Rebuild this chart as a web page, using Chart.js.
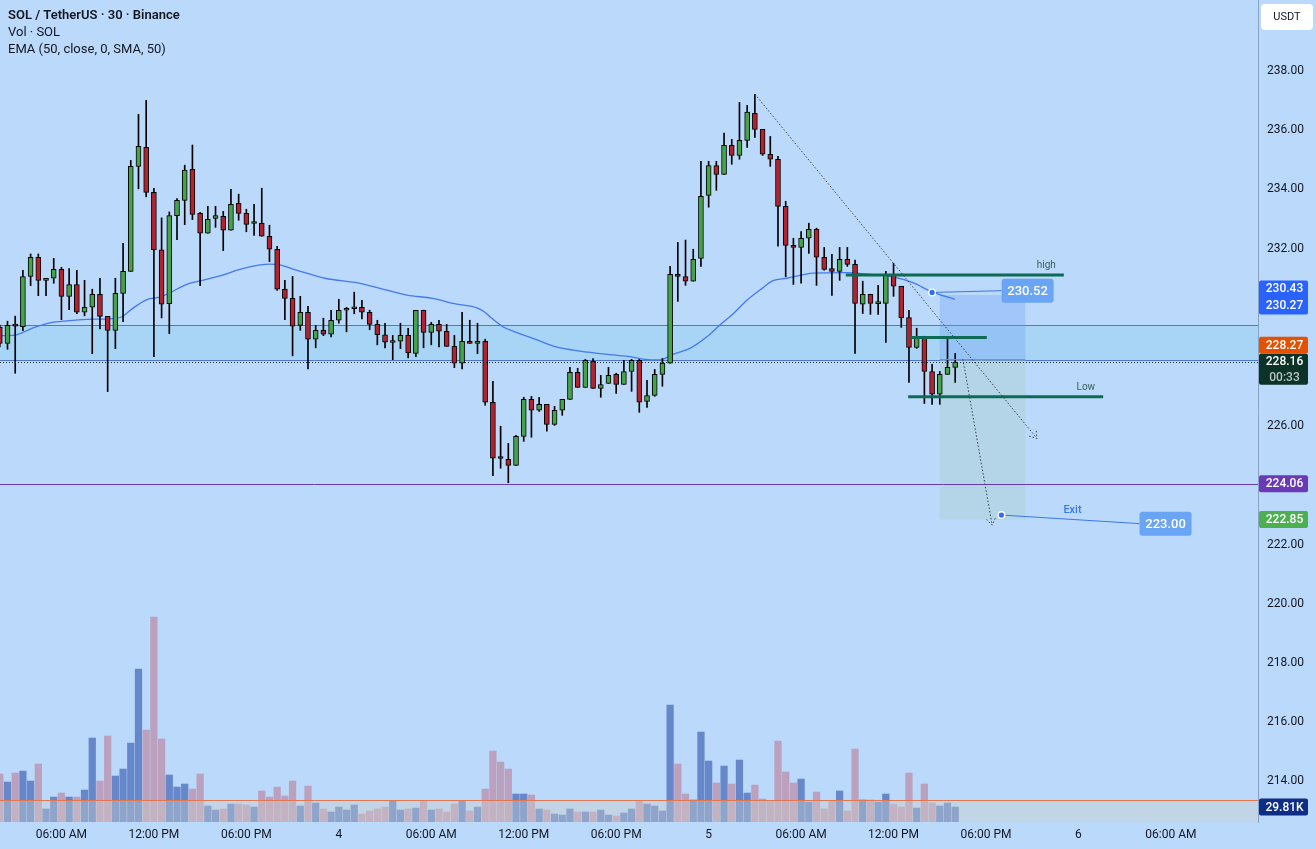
<!DOCTYPE html>
<html>
<head>
<meta charset="utf-8">
<script src="https://cdn.jsdelivr.net/npm/chart.js@4.4.0/dist/chart.umd.min.js"></script>
<style>
  html, body { margin: 0; padding: 0; background: #bbd9fb; }
  canvas { display: block; }
</style>
</head>
<body>
<canvas id="chart" width="1316" height="849"></canvas>
<script>
// SOL/USDT 30m candles (index 0 = first, partly hidden candle)
const opens = [
  229.35, 228.80, 229.40, 229.36, 231.06, 231.71, 230.93, 231.00, 231.30, 230.39,
  230.79, 229.85, 230.02, 230.46, 229.71, 229.24, 230.49, 231.23, 234.78, 235.42,
  233.90, 231.96, 230.14, 233.11, 233.63, 234.68, 233.19, 232.52, 233.02, 233.09,
  232.62, 233.53, 233.19, 232.85, 232.86, 232.42, 231.98, 230.63, 230.32, 229.41,
  229.85, 228.94, 229.24, 229.11, 229.58, 229.92, 229.97, 230.02, 229.85, 229.44,
  229.09, 228.83, 228.87, 229.07, 228.46, 229.92, 229.17, 229.44, 229.21, 228.70,
  228.13, 228.87, 228.80, 228.87, 226.81, 224.93, 224.88, 224.68, 225.66, 226.91,
  226.54, 226.74, 226.06, 226.54, 226.91, 227.82, 227.31, 228.19, 227.28, 227.45,
  227.75, 227.41, 227.85, 228.23, 226.84, 227.04, 227.75, 228.13, 231.13, 231.06,
  230.90, 231.67, 233.80, 234.81, 234.51, 235.49, 235.15, 235.66, 236.57, 236.03,
  235.19, 235.02, 233.43, 232.11, 232.04, 232.35, 232.65, 231.71, 231.33, 231.23,
  231.64, 231.47, 230.12, 230.46, 230.14, 230.15, 231.10, 230.73, 229.67, 228.66,
  228.97, 227.85, 227.08, 227.75, 227.99
];
const highs = [
  229.42, 229.55, 229.72, 231.27, 231.82, 231.82, 231.00, 231.67, 231.37, 231.33,
  231.27, 230.93, 230.63, 231.00, 229.71, 231.00, 232.18, 234.98, 236.54, 237.01,
  234.04, 233.04, 233.24, 233.69, 234.82, 235.50, 233.23, 233.43, 233.43, 233.26,
  234.00, 233.84, 233.33, 233.50, 234.04, 232.79, 232.08, 230.93, 231.06, 230.39,
  230.05, 229.41, 229.65, 229.92, 230.29, 230.02, 230.53, 230.25, 229.92, 229.58,
  229.48, 229.07, 229.48, 229.31, 229.92, 229.92, 229.51, 229.58, 229.44, 229.07,
  229.85, 229.58, 229.48, 228.94, 227.52, 226.00, 225.42, 225.69, 226.98, 227.01,
  226.98, 226.74, 226.67, 226.91, 227.99, 227.96, 228.26, 228.29, 227.72, 227.99,
  227.79, 228.23, 228.26, 228.26, 227.55, 227.92, 228.29, 231.40, 232.21, 232.29,
  231.98, 234.95, 234.95, 234.95, 235.90, 235.69, 236.94, 236.84, 237.21, 236.03,
  235.79, 235.12, 233.60, 232.35, 232.58, 232.86, 232.69, 232.04, 231.81, 232.04,
  232.04, 231.61, 230.90, 230.46, 230.76, 231.23, 231.50, 230.73, 229.92, 229.31,
  229.04, 228.09, 227.85, 229.00, 228.46
];
const lows = [
  228.68, 228.60, 227.79, 229.23, 230.75, 230.41, 230.41, 230.83, 229.60, 229.94,
  229.80, 229.73, 228.45, 229.29, 227.17, 228.62, 229.53, 231.23, 234.02, 233.75,
  228.35, 229.66, 229.13, 232.30, 232.81, 232.98, 230.75, 232.52, 232.72, 231.93,
  232.62, 232.96, 232.57, 232.45, 232.42, 231.56, 230.59, 229.60, 228.38, 229.24,
  227.94, 228.65, 229.06, 229.02, 229.48, 229.19, 229.80, 229.63, 229.26, 228.75,
  228.65, 228.25, 228.62, 228.31, 228.35, 228.65, 228.75, 228.68, 228.70, 227.98,
  227.94, 228.80, 228.45, 226.71, 224.33, 224.58, 224.09, 224.68, 225.49, 225.63,
  226.50, 225.83, 226.03, 226.37, 226.91, 227.31, 227.31, 227.28, 226.98, 227.45,
  227.11, 227.41, 227.18, 226.47, 226.64, 227.01, 227.35, 228.13, 230.22, 230.76,
  230.90, 231.40, 233.40, 233.97, 234.51, 234.85, 235.02, 235.42, 235.76, 235.15,
  234.78, 232.08, 231.05, 230.79, 230.83, 231.84, 230.76, 231.27, 230.42, 230.93,
  231.40, 228.46, 229.81, 229.78, 229.78, 228.83, 230.39, 229.34, 227.48, 228.63,
  226.77, 226.74, 226.74, 227.75, 227.48
];
const closes = [
  228.80, 229.41, 229.38, 231.06, 231.71, 230.93, 231.00, 231.30, 230.39, 230.79,
  229.85, 230.02, 230.46, 229.71, 229.24, 230.49, 231.23, 234.78, 235.46, 233.90,
  231.96, 230.12, 233.12, 233.63, 234.65, 233.16, 232.52, 232.99, 233.12, 232.62,
  233.50, 233.19, 232.82, 232.87, 232.42, 231.98, 230.63, 230.32, 229.38, 229.85,
  228.94, 229.24, 229.11, 229.58, 229.92, 229.98, 229.99, 229.85, 229.44, 229.09,
  228.84, 228.86, 229.07, 228.48, 229.92, 229.17, 229.44, 229.21, 228.70, 228.13,
  228.87, 228.80, 228.87, 226.81, 224.92, 224.91, 224.68, 225.66, 226.91, 226.54,
  226.74, 226.06, 226.54, 226.91, 227.82, 227.31, 228.23, 227.28, 227.41, 227.72,
  227.41, 227.85, 228.23, 226.81, 227.04, 227.75, 228.13, 231.13, 231.06, 230.90,
  231.64, 233.77, 234.81, 234.51, 235.49, 235.15, 235.66, 236.61, 236.03, 235.19,
  235.02, 233.43, 232.11, 232.04, 232.35, 232.65, 231.71, 231.30, 231.23, 231.64,
  231.47, 230.15, 230.46, 230.15, 230.16, 231.10, 230.73, 229.67, 228.66, 228.97,
  227.85, 227.08, 227.75, 227.99, 228.16
];
// volume in thousands of SOL
const volumes = [
  95.5, 79.6, 97.5, 101.4, 81.5, 115.4, 25.9, 49.7, 57.7, 49.7,
  49.7, 63.6, 167.1, 81.5, 171.1, 91.5, 105.4, 157.1, 304.3, 183.0,
  407.7, 165.1, 93.5, 69.6, 75.6, 65.6, 95.5, 31.8, 23.9, 25.9,
  35.8, 35.8, 33.8, 29.8, 61.7, 49.7, 69.6, 51.7, 81.5, 31.8,
  71.6, 37.8, 25.9, 19.9, 29.8, 23.9, 33.8, 15.9, 21.9, 25.9,
  29.8, 41.8, 23.9, 25.9, 27.8, 41.8, 23.9, 25.9, 19.9, 35.8,
  41.8, 21.9, 29.8, 65.6, 141.2, 119.3, 105.4, 55.7, 55.7, 53.7,
  25.9, 23.9, 15.9, 13.9, 25.9, 19.9, 19.9, 19.9, 23.9, 13.9,
  11.9, 17.9, 25.9, 41.8, 35.8, 31.8, 21.9, 232.7, 115.4, 55.7,
  43.8, 179.0, 121.3, 77.6, 111.4, 75.6, 123.3, 57.7, 73.6, 45.7,
  41.8, 161.1, 99.5, 77.6, 85.5, 39.8, 59.7, 25.9, 41.8, 61.7,
  21.9, 145.2, 43.8, 43.8, 39.8, 55.7, 35.8, 29.8, 97.5, 27.8,
  75.6, 37.8, 31.8, 37.8, 29.81
];
// EMA 50 line, read at points along the curve (candle index, price)
const emaIdx = [
  0.03, 1.97, 4.31, 6.52, 8.72, 11.32, 14.30, 15.86, 17.29, 19.10,
  20.79, 22.09, 24.03, 25.98, 28.58, 31.17, 33.77, 35.06, 36.36, 38.05,
  40.26, 42.20, 46.74, 49.34, 52.84, 56.22, 58.81, 61.93, 62.96, 63.61,
  65.30, 67.12, 69.19, 72.31, 75.29, 79.57, 81.78, 83.73, 85.67, 87.36,
  89.57, 91.77, 93.46, 95.15, 96.96, 98.65, 100.34, 102.16, 104.49, 105.53,
  109.94, 112.54, 115.91, 118.51, 120.97, 123.95
];
const emaVal = [
  229.06, 229.08, 229.32, 229.49, 229.56, 229.61, 229.63, 229.70, 229.99, 230.28,
  230.36, 230.51, 230.77, 230.91, 231.08, 231.30, 231.45, 231.48, 231.45, 231.31,
  231.14, 231.00, 230.83, 230.66, 230.43, 230.32, 230.15, 230.00, 229.85, 229.70,
  229.36, 229.16, 228.97, 228.67, 228.54, 228.41, 228.35, 228.26, 228.24, 228.43,
  228.63, 229.02, 229.42, 229.79, 230.26, 230.60, 230.92, 231.00, 231.13, 231.17,
  231.19, 231.14, 231.05, 230.85, 230.54, 230.29
];
const xTickIdx = [8, 20, 32, 44, 56, 68, 80, 92, 104, 116, 128, 140, 152];
const xTickLabels = ['06:00 AM', '12:00 PM', '06:00 PM', '4', '06:00 AM', '12:00 PM', '06:00 PM',
  '5', '06:00 AM', '12:00 PM', '06:00 PM', '6', '06:00 AM'];
const yTicks = [214, 216, 218, 220, 222, 224, 226, 228, 230, 232, 234, 236, 238];

// drawings on the chart
const zoneTop = 229.41, zoneBottom = 228.23;
const lastPrice = 228.16, entryPrice = 228.27, stopPrice = 230.43, targetPrice = 222.85;
const supportPrice = 224.06, emaLast = 230.27;
const posFrom = 122.0, posTo = 133.1;
const levelLines = [
  { price: 231.11, from: 109.8, to: 138.1, text: 'high' },
  { price: 229.00, from: 118.2, to: 128.1, text: '' },
  { price: 227.00, from: 117.9, to: 143.2, text: 'Low' }
];
const trendLines = [
  [98.0, 237.22, 134.6, 225.59],
  [125.0, 228.26, 128.8, 222.66]
];
const volLevel = 43.8;
const lastVolume = 29.81;

const BG = '#bbd9fb';
const UP = '#47a34a', DOWN = '#b3232f';
const VOL_UP = '#6688cb', VOL_DOWN = '#bca1be';

const idx = opens.map((_, i) => i);
const isUp = idx.map(i => closes[i] >= opens[i]);

function roundRect(ctx, x, y, w, h, r) {
  ctx.beginPath();
  ctx.moveTo(x + r, y);
  ctx.arcTo(x + w, y, x + w, y + h, r);
  ctx.arcTo(x + w, y + h, x, y + h, r);
  ctx.arcTo(x, y + h, x, y, r);
  ctx.arcTo(x, y, x + w, y, r);
  ctx.closePath();
}

const drawings = {
  id: 'drawings',
  beforeDraw(chart) {
    const ctx = chart.ctx;
    ctx.save();
    ctx.fillStyle = BG;
    ctx.fillRect(0, 0, chart.width, chart.height);
    ctx.restore();
  },
  beforeDatasetsDraw(chart) {
    const { ctx, chartArea: a, scales: { x, y } } = chart;
    ctx.save();
    // blue zone
    const zt = y.getPixelForValue(zoneTop), zb = y.getPixelForValue(zoneBottom);
    ctx.fillStyle = '#a8d4f6';
    ctx.fillRect(a.left, zt, a.right - a.left, zb - zt);
    ctx.strokeStyle = '#4f78c6';
    ctx.lineWidth = 1;
    ctx.beginPath();
    ctx.moveTo(a.left, Math.round(zt) + 0.5); ctx.lineTo(a.right, Math.round(zt) + 0.5);
    ctx.moveTo(a.left, Math.round(zb) + 0.5); ctx.lineTo(a.right, Math.round(zb) + 0.5);
    ctx.stroke();
    // position tool
    const px1 = x.getPixelForValue(posFrom), px2 = x.getPixelForValue(posTo);
    const ys = y.getPixelForValue(stopPrice), ye = y.getPixelForValue(entryPrice), yt = y.getPixelForValue(targetPrice);
    ctx.fillStyle = 'rgba(110,160,245,0.32)';
    ctx.fillRect(px1, ys, px2 - px1, ye - ys);
    ctx.fillStyle = 'rgba(165,205,195,0.35)';
    ctx.fillRect(px1, ye, px2 - px1, yt - ye);
    ctx.restore();
  },
  afterDatasetsDraw(chart) {
    const { ctx, chartArea: a, scales: { x, y, yv } } = chart;
    ctx.save();
    // volume band
    const vl = yv.getPixelForValue(volLevel);
    ctx.fillStyle = 'rgba(205,208,200,0.4)';
    ctx.fillRect(a.left, vl, a.right - a.left, a.bottom - vl);
    ctx.strokeStyle = '#e5774e';
    ctx.lineWidth = 1;
    ctx.beginPath();
    ctx.moveTo(a.left, Math.round(vl) + 0.5); ctx.lineTo(a.right, Math.round(vl) + 0.5);
    ctx.stroke();

    // support line
    const sy = Math.round(y.getPixelForValue(supportPrice)) + 0.5;
    ctx.strokeStyle = '#6a3ab6';
    ctx.beginPath(); ctx.moveTo(a.left, sy); ctx.lineTo(a.right, sy); ctx.stroke();

    // last price dotted line
    const ly = Math.round(y.getPixelForValue(lastPrice)) + 0.5;
    ctx.strokeStyle = '#1b2a2a';
    ctx.setLineDash([1, 2]);
    ctx.beginPath(); ctx.moveTo(a.left, ly); ctx.lineTo(a.right, ly); ctx.stroke();
    ctx.setLineDash([]);

    // entry line of the position
    const ey = Math.round(y.getPixelForValue(entryPrice)) + 0.5;
    ctx.strokeStyle = '#e8733a';
    ctx.beginPath(); ctx.moveTo(x.getPixelForValue(posFrom), ey); ctx.lineTo(x.getPixelForValue(posTo), ey); ctx.stroke();

    // level lines
    ctx.strokeStyle = '#0c6a55';
    ctx.lineWidth = 3;
    ctx.font = '10px Roboto';
    ctx.textAlign = 'right';
    ctx.textBaseline = 'bottom';
    levelLines.forEach(l => {
      const yy = y.getPixelForValue(l.price);
      const x1 = x.getPixelForValue(l.from), x2 = x.getPixelForValue(l.to);
      ctx.beginPath(); ctx.moveTo(x1, yy); ctx.lineTo(x2, yy); ctx.stroke();
      if (l.text) {
        ctx.fillStyle = '#38605a';
        ctx.fillText(l.text, x2 - 8, yy - 4);
      }
    });

    // dotted trend lines with arrow heads
    ctx.strokeStyle = '#3a3f45';
    ctx.lineWidth = 1;
    ctx.setLineDash([1.5, 2]);
    trendLines.forEach(t => {
      const x1 = x.getPixelForValue(t[0]), y1 = y.getPixelForValue(t[1]);
      const x2 = x.getPixelForValue(t[2]), y2 = y.getPixelForValue(t[3]);
      ctx.beginPath(); ctx.moveTo(x1, y1); ctx.lineTo(x2, y2); ctx.stroke();
      const ang = Math.atan2(y2 - y1, x2 - x1);
      ctx.beginPath();
      ctx.moveTo(x2 - 8 * Math.cos(ang - 0.6), y2 - 8 * Math.sin(ang - 0.6));
      ctx.lineTo(x2, y2);
      ctx.lineTo(x2 - 8 * Math.cos(ang + 0.6), y2 - 8 * Math.sin(ang + 0.6));
      ctx.stroke();
    });
    ctx.setLineDash([]);

    // callouts
    const callout = (ix, price, lx, lp, text, note) => {
      const dx = x.getPixelForValue(ix), dy = y.getPixelForValue(price);
      const bx = x.getPixelForValue(lx), by = y.getPixelForValue(lp);
      ctx.strokeStyle = '#3b78f0';
      ctx.lineWidth = 1;
      ctx.beginPath(); ctx.moveTo(dx, dy); ctx.lineTo(bx - 26, by); ctx.stroke();
      ctx.fillStyle = '#ffffff';
      ctx.beginPath(); ctx.arc(dx, dy, 4, 0, Math.PI * 2); ctx.fill();
      ctx.fillStyle = '#2f6ef0';
      ctx.beginPath(); ctx.arc(dx, dy, 2.6, 0, Math.PI * 2); ctx.fill();
      ctx.fillStyle = '#6aa4f4';
      roundRect(ctx, bx - 26, by - 12, 52, 24, 3);
      ctx.fill();
      ctx.fillStyle = '#ffffff';
      ctx.font = '500 13px Roboto';
      ctx.textAlign = 'center';
      ctx.textBaseline = 'middle';
      ctx.fillText(text, bx, by + 1);
      if (note) {
        ctx.fillStyle = '#3b78f0';
        ctx.font = '500 11px Roboto';
        ctx.fillText(note, (dx + bx - 26) / 2 + 2, (dy + by) / 2 - 9);
      }
    };
    callout(121.0, 230.52, 133.4, 230.58, '230.52', '');
    callout(130.0, 223.00, 151.3, 222.71, '223.00', 'Exit');
    ctx.restore();
  },
  afterDraw(chart) {
    const { ctx, chartArea: a, scales: { y, yv } } = chart;
    ctx.save();
    // legend text top left
    ctx.fillStyle = '#131722';
    ctx.textAlign = 'left';
    ctx.textBaseline = 'middle';
    ctx.font = '600 13px Roboto';
    ctx.fillText('SOL / TetherUS · 30 · Binance', 8, 16);
    ctx.font = '13px Roboto';
    ctx.fillText('Vol · SOL', 8, 33);
    ctx.fillText('EMA (50, close, 0, SMA, 50)', 8, 50);

    // currency box
    ctx.fillStyle = '#ffffff';
    roundRect(ctx, a.right + 3, 4, 52, 26, 4);
    ctx.fill();
    ctx.fillStyle = '#131722';
    ctx.font = '11px Roboto';
    ctx.textAlign = 'center';
    ctx.fillText('USDT', a.right + 29, 17);

    // price labels on the axis
    const bx = a.right + 1, bw = 49, cx = bx + bw / 2 + 1;
    const box = (top, h, color, lines, colors) => {
      ctx.fillStyle = color;
      roundRect(ctx, bx, top, bw, h, 2);
      ctx.fill();
      ctx.font = '500 12px Roboto';
      ctx.textAlign = 'center';
      ctx.textBaseline = 'middle';
      const step = h / lines.length;
      lines.forEach((t, k) => {
        ctx.fillStyle = colors ? colors[k] : '#ffffff';
        ctx.fillText(t, cx, top + step * (k + 0.5) + 0.5);
      });
    };
    const yStop = y.getPixelForValue(stopPrice), yEma = y.getPixelForValue(emaLast);
    const midSE = (yStop + yEma) / 2;
    box(midSE - 17, 34, '#2962ff', [stopPrice.toFixed(2), emaLast.toFixed(2)]);
    const yLast = y.getPixelForValue(lastPrice);
    box(yLast - 8.5, 31, '#0b3327', [lastPrice.toFixed(2), '00:33'], ['#ffffff', '#b8c4c0']);
    box(yLast - 8.5 - 17, 17, '#e65100', [entryPrice.toFixed(2)]);
    box(y.getPixelForValue(supportPrice) - 8.5, 17, '#6a3ab6', [supportPrice.toFixed(2)]);
    box(y.getPixelForValue(targetPrice) - 8.5, 17, '#4caf50', [targetPrice.toFixed(2)]);
    box(yv.getPixelForValue(lastVolume) - 8.5, 17, '#0e2d87', [lastVolume.toFixed(2) + 'K']);
    ctx.restore();
  }
};

new Chart(document.getElementById('chart'), {
  type: 'bar',
  data: {
    datasets: [
      {
        label: 'bodies',
        data: idx.map(i => ({ x: i, y: [opens[i], closes[i]] })),
        backgroundColor: idx.map(i => isUp[i] ? UP : DOWN),
        borderColor: '#000000',
        borderWidth: 1,
        borderSkipped: false,
        barThickness: 5,
        minBarLength: 2,
        grouped: false,
        yAxisID: 'y',
        order: 1
      },
      {
        label: 'wicks',
        data: idx.map(i => ({ x: i, y: [lows[i], highs[i]] })),
        backgroundColor: '#000000',
        barThickness: 1,
        grouped: false,
        yAxisID: 'y',
        order: 2
      },
      {
        type: 'line',
        label: 'EMA',
        data: emaIdx.map((v, k) => ({ x: v, y: emaVal[k] })),
        borderColor: '#4479f2',
        borderWidth: 1.3,
        pointRadius: 0,
        cubicInterpolationMode: 'monotone',
        yAxisID: 'y',
        order: 3
      },
      {
        label: 'volume',
        data: idx.map(i => ({ x: i, y: volumes[i] })),
        backgroundColor: idx.map(i => isUp[i] ? VOL_UP : VOL_DOWN),
        barThickness: 6.6,
        grouped: false,
        yAxisID: 'yv',
        order: 4
      }
    ]
  },
  options: {
    responsive: false,
    devicePixelRatio: 1,
    animation: false,
    layout: { padding: 0 },
    plugins: { legend: { display: false }, tooltip: { enabled: false } },
    scales: {
      x: {
        type: 'linear',
        min: 0.027,
        max: 163.3,
        offset: false,
        grid: { display: false, drawTicks: false },
        border: { display: false },
        afterBuildTicks: s => { s.ticks = xTickIdx.map(v => ({ value: v })); },
        afterFit: s => { s.height = 27; s.paddingLeft = 0; s.paddingRight = 0; },
        ticks: {
          autoSkip: false,
          maxRotation: 0,
          padding: 6,
          color: '#131722',
          font: { family: 'Roboto', size: 12 },
          callback: (v, i) => xTickLabels[i]
        }
      },
      y: {
        type: 'linear',
        position: 'right',
        min: 212.63,
        max: 240.40,
        grid: { display: false, drawTicks: false },
        border: { display: true, color: '#8aa3c4', width: 1 },
        afterBuildTicks: s => { s.ticks = yTicks.map(v => ({ value: v })); },
        afterFit: s => { s.width = 58; s.paddingTop = 0; s.paddingBottom = 0; },
        ticks: {
          padding: 9,
          color: '#131722',
          font: { family: 'Roboto', size: 12 },
          callback: v => v.toFixed(2)
        }
      },
      yv: {
        type: 'linear',
        display: false,
        min: 0,
        max: 1636
      }
    }
  },
  plugins: [drawings]
});
</script>
</body>
</html>
